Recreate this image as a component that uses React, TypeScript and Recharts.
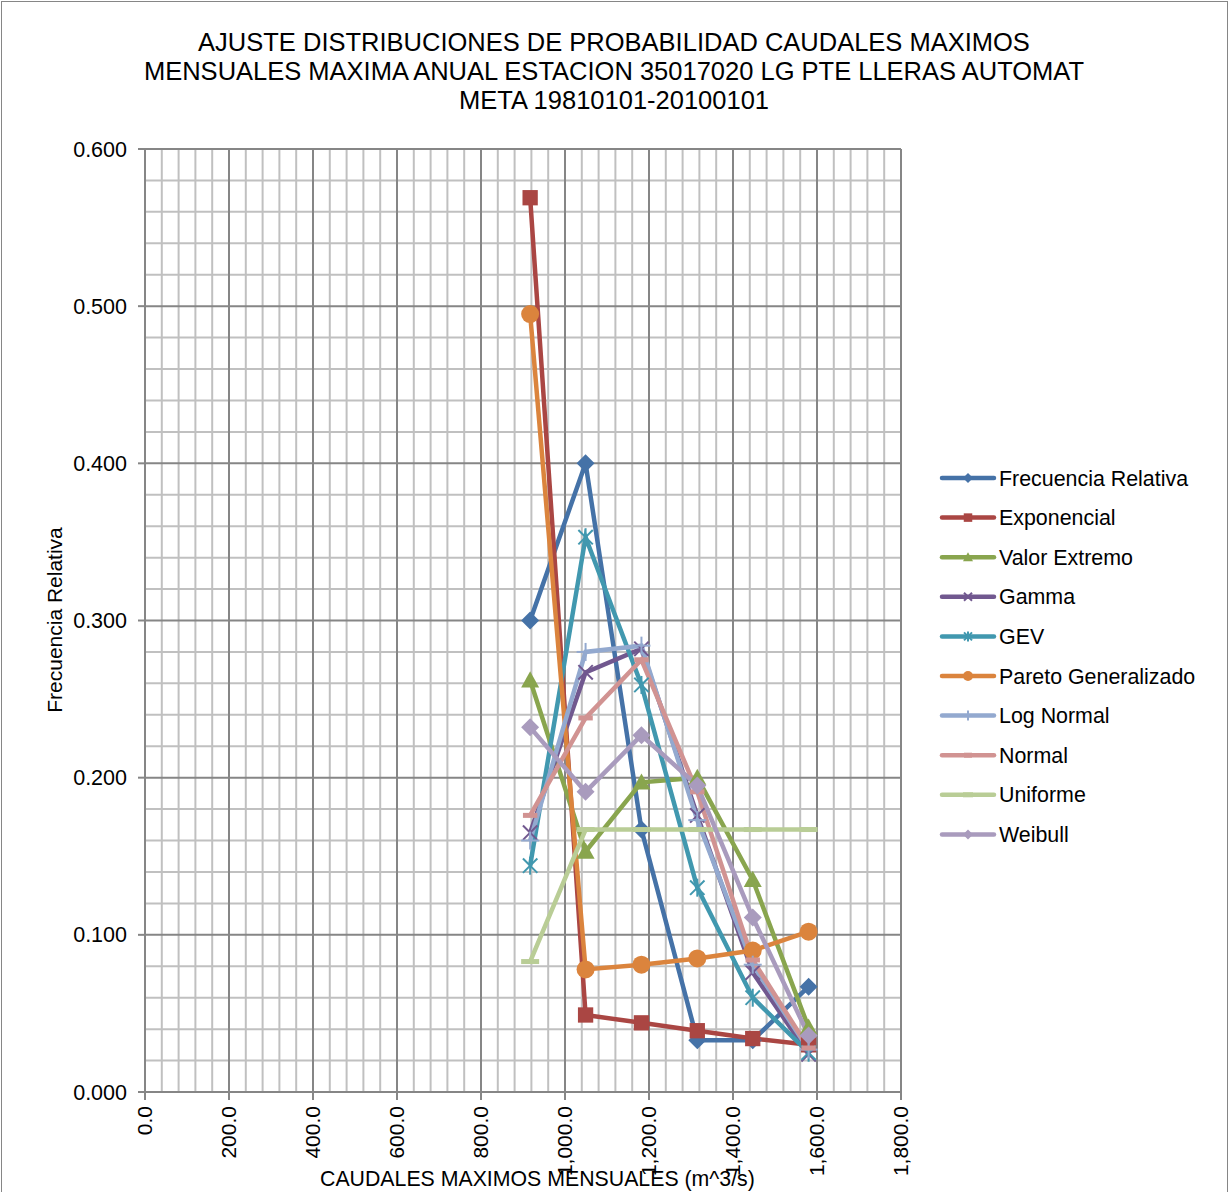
import { LineChart, Line, XAxis, YAxis, ReferenceLine } from 'recharts';

// caudales (m^3/s) - marcas de clase
const caudales = [917, 1049, 1182, 1315, 1447, 1580];

const frecuenciaRelativa = [0.3, 0.4, 0.167, 0.033, 0.033, 0.067];
const exponencial = [0.569, 0.049, 0.044, 0.039, 0.034, 0.03];
const valorExtremo = [0.262, 0.153, 0.197, 0.2, 0.135, 0.041];
const gamma = [0.165, 0.267, 0.282, 0.176, 0.076, 0.024];
const gev = [0.144, 0.353, 0.259, 0.13, 0.06, 0.025];
const paretoGeneralizado = [0.495, 0.078, 0.081, 0.085, 0.09, 0.102];
const logNormal = [0.16, 0.28, 0.284, 0.173, 0.081, 0.027];
const normal = [0.176, 0.238, 0.275, 0.191, 0.084, 0.028];
const uniforme = [0.083, 0.167, 0.167, 0.167, 0.167, 0.167];
const weibull = [0.232, 0.191, 0.227, 0.195, 0.111, 0.036];

const xTicks = [0, 200, 400, 600, 800, 1000, 1200, 1400, 1600, 1800];
const yTicks = [0, 0.1, 0.2, 0.3, 0.4, 0.5, 0.6];

const titleLines = [
  'AJUSTE DISTRIBUCIONES DE PROBABILIDAD CAUDALES MAXIMOS',
  'MENSUALES MAXIMA ANUAL ESTACION 35017020 LG PTE LLERAS AUTOMAT',
  'META 19810101-20100101',
];

type Shape = 'diamond' | 'square' | 'triangle' | 'x' | 'star' | 'circle' | 'plus' | 'dash' | 'longdash';

const series: { key: string; name: string; values: number[]; color: string; shape: Shape }[] = [
  { key: 'fr', name: 'Frecuencia Relativa', values: frecuenciaRelativa, color: '#4572A7', shape: 'diamond' },
  { key: 'exp', name: 'Exponencial', values: exponencial, color: '#AA4643', shape: 'square' },
  { key: 've', name: 'Valor Extremo', values: valorExtremo, color: '#89A54E', shape: 'triangle' },
  { key: 'gam', name: 'Gamma', values: gamma, color: '#71588F', shape: 'x' },
  { key: 'gev', name: 'GEV', values: gev, color: '#4198AF', shape: 'star' },
  { key: 'par', name: 'Pareto Generalizado', values: paretoGeneralizado, color: '#DB843D', shape: 'circle' },
  { key: 'ln', name: 'Log Normal', values: logNormal, color: '#93A9CF', shape: 'plus' },
  { key: 'nor', name: 'Normal', values: normal, color: '#D19392', shape: 'dash' },
  { key: 'uni', name: 'Uniforme', values: uniforme, color: '#B9CD96', shape: 'longdash' },
  { key: 'wei', name: 'Weibull', values: weibull, color: '#A99BBD', shape: 'diamond' },
];

const data = caudales.map((x, i) => {
  const row: Record<string, number> = { x };
  series.forEach((s) => (row[s.key] = s.values[i]));
  return row;
});

const minorX: number[] = [];
for (let v = 40; v < 1800; v += 40) if (v % 200 !== 0) minorX.push(v);
const minorY: number[] = [];
for (let i = 1; i < 30; i++) if (i % 5 !== 0) minorY.push(+(i * 0.02).toFixed(2));

const FONT = '"Liberation Sans", Arial, sans-serif';

function Marker({ shape, cx, cy, color, s }: { shape: Shape; cx: number; cy: number; color: string; s: number }) {
  if (cx == null || cy == null || isNaN(cx) || isNaN(cy)) return null;
  switch (shape) {
    case 'diamond':
      return <polygon points={`${cx},${cy - s} ${cx + s},${cy} ${cx},${cy + s} ${cx - s},${cy}`} fill={color} />;
    case 'square':
      return <rect x={cx - s * 0.85} y={cy - s * 0.85} width={s * 1.7} height={s * 1.7} fill={color} />;
    case 'triangle':
      return <polygon points={`${cx},${cy - s} ${cx + s},${cy + s * 0.8} ${cx - s},${cy + s * 0.8}`} fill={color} />;
    case 'x':
      return (
        <g stroke={color} strokeWidth={2}>
          <line x1={cx - s * 0.8} y1={cy - s * 0.8} x2={cx + s * 0.8} y2={cy + s * 0.8} />
          <line x1={cx - s * 0.8} y1={cy + s * 0.8} x2={cx + s * 0.8} y2={cy - s * 0.8} />
        </g>
      );
    case 'star':
      return (
        <g stroke={color} strokeWidth={2}>
          <line x1={cx - s * 0.8} y1={cy - s * 0.8} x2={cx + s * 0.8} y2={cy + s * 0.8} />
          <line x1={cx - s * 0.8} y1={cy + s * 0.8} x2={cx + s * 0.8} y2={cy - s * 0.8} />
          <line x1={cx} y1={cy - s} x2={cx} y2={cy + s} />
        </g>
      );
    case 'circle':
      return <circle cx={cx} cy={cy} r={s} fill={color} />;
    case 'plus':
      return (
        <g stroke={color} strokeWidth={2}>
          <line x1={cx - s} y1={cy} x2={cx + s} y2={cy} />
          <line x1={cx} y1={cy - s} x2={cx} y2={cy + s} />
        </g>
      );
    case 'dash':
      return <line x1={cx - s * 0.8} y1={cy} x2={cx + s * 0.8} y2={cy} stroke={color} strokeWidth={5} />;
    case 'longdash':
      return <line x1={cx - s} y1={cy} x2={cx + s} y2={cy} stroke={color} strokeWidth={5} />;
  }
  return null;
}

const fmtX = (v: number) =>
  v.toLocaleString('en-US', { minimumFractionDigits: 1, maximumFractionDigits: 1 });

const XTick = (props: any) => {
  const { x, y, payload } = props;
  return (
    <text
      transform={`translate(${x + 7},${y + 4}) rotate(-90)`}
      textAnchor="end"
      fontSize={21}
      fontFamily={FONT}
      fill="#000"
    >
      {fmtX(payload.value)}
    </text>
  );
};

export default function App() {
  return (
    <div style={{ position: 'absolute', left: 0, top: 0, width: 1232, height: 1192, background: '#fff', fontFamily: FONT }}>
      <div style={{ position: 'absolute', left: 1, top: 1, width: 1225, height: 1200, border: '1px solid #868686' }} />
      <div
        style={{
          position: 'absolute',
          left: 0,
          top: 28,
          width: 1228,
          textAlign: 'center',
          fontSize: 25.5,
          lineHeight: '29px',
          color: '#000',
        }}
      >
        {titleLines.map((t) => (
          <div key={t}>{t}</div>
        ))}
      </div>
      <div
        style={{
          position: 'absolute',
          left: 55,
          top: 620,
          transform: 'translate(-50%, -50%) rotate(-90deg)',
          fontSize: 21,
          whiteSpace: 'nowrap',
        }}
      >
        Frecuencia Relativa
      </div>
      <div style={{ position: 'absolute', left: 0, top: 0 }}>
        <LineChart
          width={1232}
          height={1192}
          data={data}
          margin={{ top: 149, right: 331, bottom: 20, left: 65 }}
        >
          {minorX.map((v) => (
            <ReferenceLine key={'mx' + v} x={v} stroke="#C0C0C0" strokeWidth={2} zIndex={-100} />
          ))}
          {minorY.map((v) => (
            <ReferenceLine key={'my' + v} y={v} stroke="#C0C0C0" strokeWidth={2} zIndex={-100} />
          ))}
          {xTicks.slice(1).map((v) => (
            <ReferenceLine key={'Mx' + v} x={v} stroke="#868686" strokeWidth={2} zIndex={-90} />
          ))}
          {yTicks.slice(1).map((v) => (
            <ReferenceLine key={'My' + v} y={v} stroke="#868686" strokeWidth={2} zIndex={-90} />
          ))}
          <XAxis
            type="number"
            dataKey="x"
            domain={[0, 1800]}
            ticks={xTicks}
            interval={0}
            height={80}
            tickSize={8}
            stroke="#868686"
            strokeWidth={2}
            tick={<XTick />}
          />
          <YAxis
            type="number"
            domain={[0, 0.6]}
            ticks={yTicks}
            interval={0}
            width={80}
            tickSize={7}
            tickMargin={11}
            stroke="#868686"
            strokeWidth={2}
            tickFormatter={(v: number) => v.toFixed(3)}
            tick={{ fill: '#000', fontSize: 21.5, fontFamily: FONT }}
          />
          {series.map((s) => (
            <Line
              key={s.key}
              dataKey={s.key}
              name={s.name}
              type="linear"
              stroke={s.color}
              strokeWidth={4.5}
              isAnimationActive={false}
              dot={(p: any) => (
                <Marker key={s.key + p.index} shape={s.shape} cx={p.cx} cy={p.cy} color={s.color} s={9} />
              )}
              activeDot={false}
            />
          ))}
        </LineChart>
      </div>
      <div style={{ position: 'absolute', left: 320, top: 1167, whiteSpace: 'nowrap', fontSize: 21.3 }}>
        CAUDALES MAXIMOS MENSUALES (m^3/s)
      </div>
      <svg style={{ position: 'absolute', left: 930, top: 455 }} width={300} height={400}>
        {series.map((s, i) => {
          const cy = 23 + i * 39.6;
          return (
            <g key={s.key}>
              <line x1={12} y1={cy} x2={64} y2={cy} stroke={s.color} strokeWidth={4.5} strokeLinecap="round" />
              <Marker shape={s.shape} cx={38} cy={cy} color={s.color} s={5} />
              <text x={69} y={cy + 7.5} fontSize={21.4} fontFamily={FONT} fill="#000">
                {s.name}
              </text>
            </g>
          );
        })}
      </svg>
    </div>
  );
}
